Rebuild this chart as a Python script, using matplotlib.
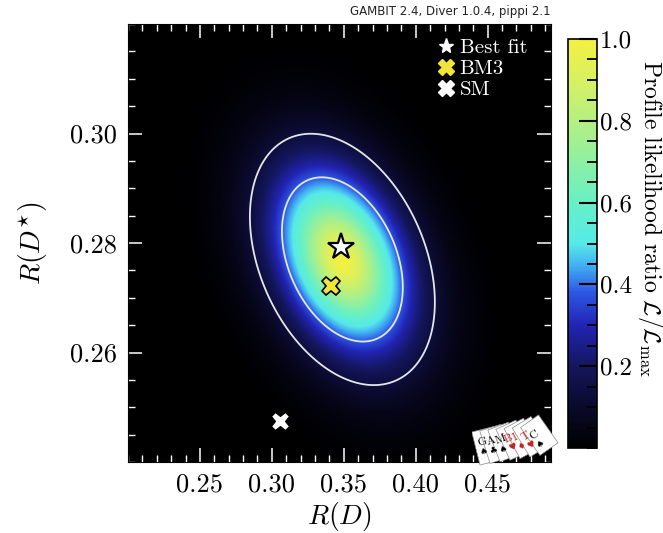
import numpy as np
import matplotlib
matplotlib.use("Agg")
import matplotlib.pyplot as plt
from matplotlib.colors import LinearSegmentedColormap
from matplotlib.ticker import MultipleLocator, FormatStrFormatter
from matplotlib.lines import Line2D
from matplotlib.patches import Rectangle
import matplotlib.transforms as mtransforms

plt.rcParams['font.family'] = 'serif'
plt.rcParams['font.serif'] = ['cmr10']
plt.rcParams['mathtext.fontset'] = 'cm'
plt.rcParams['axes.formatter.use_mathtext'] = True

# ---------------- data ----------------
x_range = [0.2, 0.494]
y_range = [0.24, 0.32]
like_center = [0.349, 0.2770]     # centre of the profile-likelihood blob
like_sigma = [0.042, 0.0150]      # widths (inner-contour half widths) in R(D), R(D*)
like_rho = -0.34                  # correlation (tilt of the blob)
like_shape = 1.7                  # fall-off exponent of the profile
like_scale = 0.968                # fall-off strength
contour_levels = [0.136, 0.38]    # outer and inner contour
best_fit = [0.348, 0.2793]
bm3 = [0.341, 0.2722]
sm = [0.3055, 0.2475]
x_ticks = [0.25, 0.30, 0.35, 0.40, 0.45]
y_ticks = [0.26, 0.28, 0.30]
cbar_ticks = [0.2, 0.4, 0.6, 0.8, 1.0]
logo_letters = ['G', 'A', 'M', 'B', 'I', 'T', 'C']
logo_suits = ['\u2660', '\u2663', '\u2660', '\u2665', '\u2666', '\u2665', '\u2660']
logo_colors = ['k', 'k', 'k', '#c81e1e', '#c81e1e', '#c81e1e', 'k']

cmap = LinearSegmentedColormap.from_list('pippi', [
    (0.00, '#000000'), (0.10, '#0a0a2c'), (0.20, '#14165e'),
    (0.30, '#2224b4'), (0.38, '#2c58e4'), (0.45, '#44b4f2'),
    (0.50, '#56eae8'), (0.60, '#66f0c6'), (0.75, '#a2f092'),
    (0.90, '#d8f062'), (1.00, '#f4f040')])

# ---------------- likelihood surface ----------------
xs = np.linspace(x_range[0], x_range[1], 500)
ys = np.linspace(y_range[0], y_range[1], 500)
X, Y = np.meshgrid(xs, ys)
dx = (X - like_center[0]) / like_sigma[0]
dy = (Y - like_center[1]) / like_sigma[1]
r = np.sqrt((dx**2 - 2 * like_rho * dx * dy + dy**2) / (1 - like_rho**2))
L = np.exp(-like_scale * r**like_shape)

fig = plt.figure(figsize=(6.63, 5.33), dpi=100)
ax = fig.add_axes([128/663, 1 - 462/533, (551-128)/663, (462-24)/533])
im = ax.imshow(L, extent=[x_range[0], x_range[1], y_range[0], y_range[1]],
               origin='lower', aspect='auto', cmap=cmap, vmin=0, vmax=1,
               interpolation='bilinear')
ax.contour(X, Y, L, levels=contour_levels, colors='#e6e6e6', linewidths=1.3)

ax.plot(sm[0], sm[1], marker='X', ms=13, color='white', mec='black', mew=0.8, ls='none')
ax.plot(bm3[0], bm3[1], marker='X', ms=13, color='#f2e43a', mec='black', mew=1.2, ls='none')
ax.plot(best_fit[0], best_fit[1], marker='*', ms=20, color='white', mec='black', mew=1.6, ls='none')

ax.set_xlim(x_range)
ax.set_ylim(y_range)
ax.set_xticks(x_ticks)
ax.set_yticks(y_ticks)
ax.xaxis.set_major_formatter(FormatStrFormatter('%.2f'))
ax.yaxis.set_major_formatter(FormatStrFormatter('%.2f'))
ax.xaxis.set_minor_locator(MultipleLocator(0.01))
ax.yaxis.set_minor_locator(MultipleLocator(0.005))
ax.tick_params(which='both', direction='in', color='white', top=True, right=True,
               labelsize=19, pad=8)
ax.tick_params(which='major', length=10, width=1.1)
ax.tick_params(which='minor', length=5, width=1.0)
for s in ax.spines.values():
    s.set_color('black')
ax.set_xlabel(r'$R(D)$', fontsize=20, labelpad=2)
ax.set_ylabel(r'$R(D^{\star})$', fontsize=20, labelpad=14)

handles = [
    Line2D([], [], marker='*', ms=11, color='white', ls='none'),
    Line2D([], [], marker='X', ms=12, color='#f2e43a', ls='none'),
    Line2D([], [], marker='X', ms=12, color='white', ls='none'),
]
leg = ax.legend(handles, ['Best fit', 'BM3', 'SM'], loc='upper right', frameon=False,
                fontsize=15, labelcolor='white', handletextpad=0.15, labelspacing=0.12,
                borderaxespad=0.3, handlelength=1.0, bbox_to_anchor=(0.978, 1.0))

fig.text(551/663, 1 - 12/533, 'GAMBIT 2.4, Diver 1.0.4, pippi 2.1', ha='right', va='center',
         fontsize=8.5, family='DejaVu Sans', color='#222222')

# ---------------- colourbar ----------------
cax = fig.add_axes([568/663, 1 - 448/533, 29/663, (448-39)/533])
cb = fig.colorbar(im, cax=cax)
cb.set_ticks(cbar_ticks)
cb.ax.yaxis.set_major_formatter(FormatStrFormatter('%.1f'))
cb.ax.yaxis.set_minor_locator(MultipleLocator(0.05))
cb.ax.tick_params(which='both', direction='in', color='black', labelsize=18, pad=2)
cb.ax.tick_params(which='major', length=13, width=1.5)
cb.ax.tick_params(which='minor', length=7, width=1.3)
cb.outline.set_linewidth(1.2)
fig.text(650/663, 1 - 218/533,
         r'Profile likelihood ratio $\mathcal{L}/\mathcal{L}_\mathrm{max}$',
         rotation=270, ha='center', va='center', fontsize=17)

# ---------------- GAMBIT logo (fanned cards) ----------------
lax = fig.add_axes([472/663, 1 - 466/533, 96/663, 58/533])
lax.set_xlim(0, 96)
lax.set_ylim(0, 58)
lax.axis('off')
for i, (let, suit, col) in enumerate(zip(logo_letters, logo_suits, logo_colors)):
    ang = 14 + i * 3.5
    x0 = 8 + i * 10.0
    y0 = 1 + i * 1.6
    t = mtransforms.Affine2D().rotate_deg_around(x0, y0, ang) + lax.transData
    lax.add_patch(Rectangle((x0, y0), 22, 34, facecolor='white', edgecolor='#8a8a8a',
                            lw=0.5, transform=t))
    lax.text(x0 + 2, y0 + 23, let, color=col, fontsize=8.5, transform=t, rotation=ang,
             ha='left', va='center')
    lax.text(x0 + 2.5, y0 + 13, suit, color=col, fontsize=6.5, transform=t, rotation=ang,
             ha='left', va='center', family='DejaVu Sans')

fig.savefig('out.png', dpi=100)
